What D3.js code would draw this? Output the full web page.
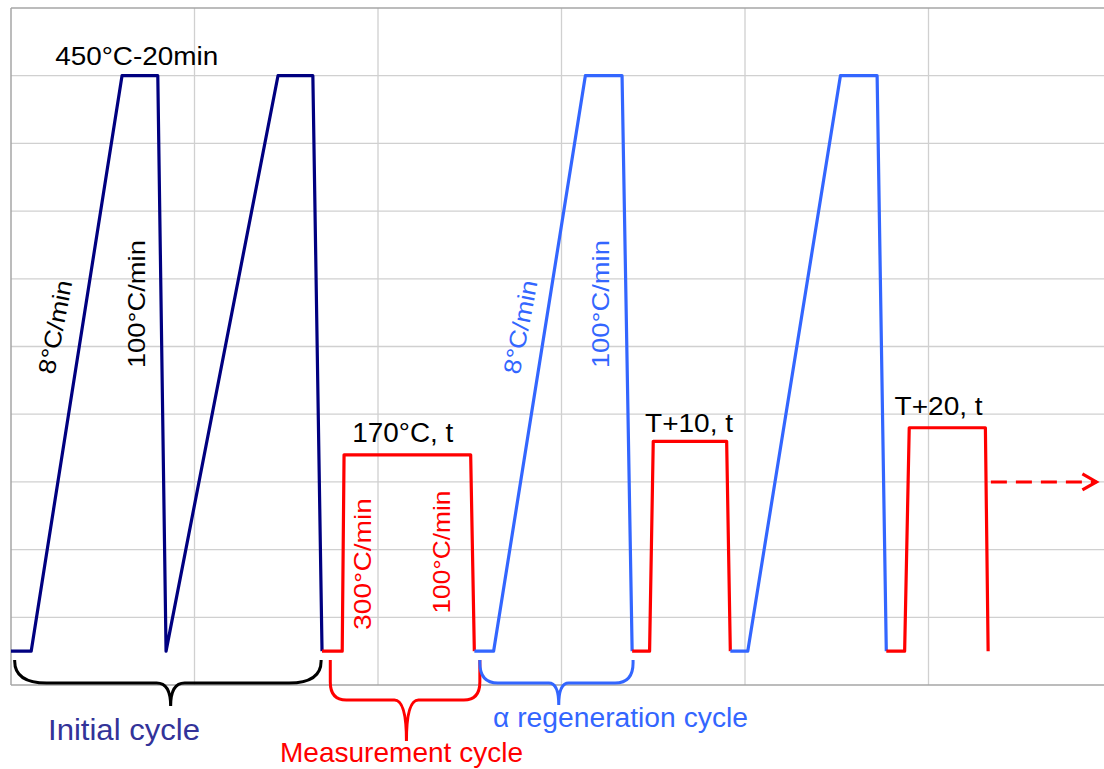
<!DOCTYPE html>
<html><head><meta charset="utf-8">
<script src="https://cdn.jsdelivr.net/npm/d3@7"></script>
<style>body{margin:0;background:#fff}svg{display:block}text{font-family:"Liberation Sans",Arial,sans-serif}</style>
</head><body><svg id="c" width="1104" height="769"></svg>
<script>
// time (arbitrary units, 20 per grid column) vs temperature (°C)
const initialCycle = [[0,25],[2.2,25],[12.1,450],[16.0,450],[16.9,25],[29.1,450],[32.9,450],[33.9,25]];
const measure1 = [[33.9,25],[36.1,25],[36.3,170],[50.1,170],[50.5,25]];
const regen1 = [[50.5,25],[52.6,25],[62.6,450],[66.6,450],[67.7,25]];
const measure2 = [[67.7,25],[69.6,25],[70.0,180],[78.0,180],[78.4,25]];
const regen2 = [[78.4,25],[80.3,25],[90.4,450],[94.4,450],[95.4,25]];
const measure3 = [[95.4,25],[97.4,25],[97.9,190],[106.2,190],[106.5,25]];
const arrowLine = [[106.8,150],[118.3,150]];
const xTicks = [0,20,40,60,80,100,120];
const yTicks = [0,50,100,150,200,250,300,350,400,450,500];
const labelsTop = [
  {text:"450°C-20min", t:13.7, v:457.9, len:163, size:25},
  {text:"170°C, t", t:42.7, v:179.5, len:101, size:27},
  {text:"T+10, t", t:73.9, v:186.9, len:88, size:26},
  {text:"T+20, t", t:101.1, v:199.4, len:88, size:25}
];
const rateLabels = [
  {text:"8°C/min", t:4.8, v:264.4, angle:-79, len:95, color:"black"},
  {text:"100°C/min", t:13.7, v:281.3, angle:-90, len:128, color:"black"},
  {text:"8°C/min", t:55.5, v:264.4, angle:-79, len:95, color:"#3366ff"},
  {text:"100°C/min", t:64.2, v:281.3, angle:-90, len:128, color:"#3366ff"},
  {text:"300°C/min", t:38.3, v:89.4, angle:-90, len:132, color:"#ff0000"},
  {text:"100°C/min", t:46.9, v:98.2, angle:-90, len:123, color:"#ff0000"}
];
const cycleNames = ["Initial cycle","Measurement cycle","α regeneration cycle"];

const svg=d3.select("#c");
const x=d3.scaleLinear().domain([0,120]).range([11,1112]);
const y=d3.scaleLinear().domain([0,500]).range([685,8]);

// grid
svg.append("g").selectAll("line").data(xTicks.slice(1,-1)).join("line")
  .attr("x1",d=>x(d)).attr("x2",d=>x(d)).attr("y1",y(500)).attr("y2",y(0))
  .attr("stroke","#d0d0d0").attr("stroke-width",1.3);
svg.append("g").selectAll("line").data(yTicks.slice(1,-1)).join("line")
  .attr("x1",x(0)).attr("x2",x(120)).attr("y1",d=>y(d)).attr("y2",d=>y(d))
  .attr("stroke","#d0d0d0").attr("stroke-width",1.3);
// frame
svg.append("line").attr("x1",x(0)).attr("x2",x(120)).attr("y1",y(500)).attr("y2",y(500)).attr("stroke","#a6a6a6").attr("stroke-width",1.5);
svg.append("line").attr("x1",x(0)).attr("x2",x(120)).attr("y1",y(0)).attr("y2",y(0)).attr("stroke","#a6a6a6").attr("stroke-width",1.5);
svg.append("line").attr("x1",x(0)).attr("x2",x(0)).attr("y1",y(500)).attr("y2",y(0)).attr("stroke","#a6a6a6").attr("stroke-width",1.5);

const line=d3.line().x(d=>x(d[0])).y(d=>y(d[1]));
const series=[[initialCycle,"#000080"],[measure1,"#ff0000"],[regen1,"#3366ff"],[measure2,"#ff0000"],[regen2,"#3366ff"],[measure3,"#ff0000"]];
series.forEach(([d,c])=>svg.append("path").datum(d).attr("d",line).attr("fill","none").attr("stroke",c).attr("stroke-width",3.2).attr("stroke-linejoin","round"));

// dashed arrow
svg.append("path").datum(arrowLine).attr("d",line).attr("fill","none").attr("stroke","#ff0000").attr("stroke-width",3).attr("stroke-dasharray","16,9");
const ax=x(arrowLine[1][0]), ay=y(arrowLine[1][1]);
svg.append("path").attr("d",`M${ax-14},${ay-8}L${ax},${ay}L${ax-14},${ay+8}`).attr("fill","none").attr("stroke","#ff0000").attr("stroke-width",3.2);

// labels
labelsTop.forEach(l=>svg.append("text").attr("x",x(l.t)).attr("y",y(l.v)).attr("text-anchor","middle")
  .attr("font-size",l.size).attr("textLength",l.len).attr("lengthAdjust","spacingAndGlyphs").attr("fill","black").text(l.text));
rateLabels.forEach(l=>svg.append("text").attr("transform",`translate(${x(l.t)},${y(l.v)}) rotate(${l.angle})`)
  .attr("text-anchor","middle").attr("dominant-baseline","central").attr("font-size",24)
  .attr("textLength",l.len).attr("lengthAdjust","spacingAndGlyphs").attr("fill",l.color).text(l.text));

// braces
function brace(x1,x2,xc,yTop,yMid,yTip,rx,ry,rx2){
  const p=d3.path();
  p.moveTo(x1,yTop); p.lineTo(x1,yMid-ry); p.quadraticCurveTo(x1,yMid,x1+rx,yMid);
  p.lineTo(xc-rx2,yMid); p.quadraticCurveTo(xc,yMid,xc,yTip);
  p.quadraticCurveTo(xc,yMid,xc+rx2,yMid); p.lineTo(x2-rx,yMid);
  p.quadraticCurveTo(x2,yMid,x2,yMid-ry); p.lineTo(x2,yTop);
  return p.toString();
}
const braces=[
  {a:0.4,b:33.8,c:17.4,yTop:660,yMid:683,yTip:706,rx:32,ry:22,rx2:14,color:"#000000"},
  {a:34.8,b:51.1,c:43.1,yTop:660,yMid:700,yTip:741,rx:16,ry:18,rx2:12,color:"#ff0000"},
  {a:51.1,b:67.8,c:59.7,yTop:660,yMid:683,yTip:705,rx:18,ry:20,rx2:10,color:"#3366ff"}
];
braces.forEach(b=>svg.append("path").attr("d",brace(x(b.a),x(b.b),x(b.c),b.yTop,b.yMid,b.yTip,b.rx,b.ry,b.rx2))
  .attr("fill","none").attr("stroke",b.color).attr("stroke-width",3));

svg.append("text").attr("x",124).attr("y",740).attr("text-anchor","middle").attr("font-size",29).attr("fill","#333399").attr("textLength",152).attr("lengthAdjust","spacingAndGlyphs").text(cycleNames[0]);
svg.append("text").attr("x",401.5).attr("y",762).attr("text-anchor","middle").attr("font-size",28).attr("fill","#ff0000").attr("textLength",243).attr("lengthAdjust","spacingAndGlyphs").text(cycleNames[1]);
svg.append("text").attr("x",620.5).attr("y",727).attr("text-anchor","middle").attr("font-size",27).attr("fill","#3366ff").attr("textLength",255).attr("lengthAdjust","spacingAndGlyphs").text(cycleNames[2]);
</script></body></html>
